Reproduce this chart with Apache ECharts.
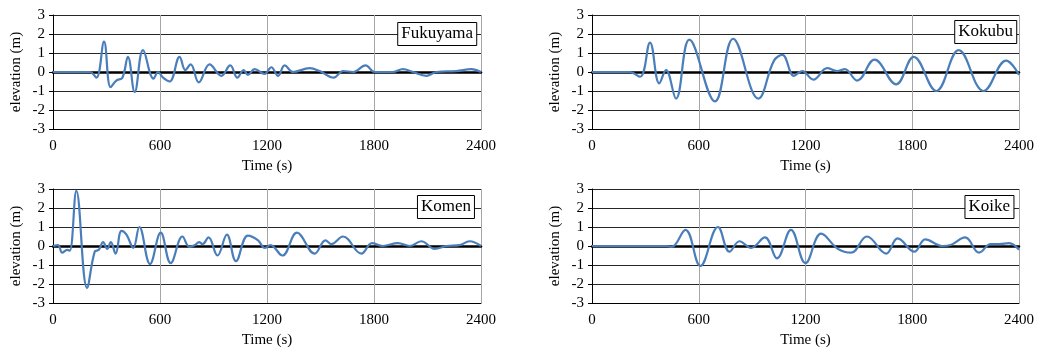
<!DOCTYPE html>
<html>
<head>
<meta charset="UTF-8">
<title>elevation</title>
<style>
  html, body { margin: 0; padding: 0; background: #fff; }
  #chart { width: 1037px; height: 351px; }
</style>
<script src="https://cdn.jsdelivr.net/npm/echarts@6/dist/echarts.min.js"></script>
</head>
<body>
<div id="chart"></div>
<script>
// time (s) / elevation (m)
var fukuyamaT = [0, 206, 243, 286, 323, 355, 389, 420, 458, 505, 564, 589, 617, 654, 710, 742, 772, 817, 878, 944, 994, 1034, 1069, 1093, 1131, 1187, 1224, 1262, 1299, 1346, 1439, 1495, 1574, 1626, 1682, 1753, 1804, 1906, 1962, 2019, 2093, 2150, 2262, 2346, 2400];
var fukuyamaV = [0, 0, -0.3, 1.6, -0.8, -0.45, -0.3, 0.8, -1.05, 1.15, -0.35, 0, -0.3, -0.5, 0.8, 0.1, 0.4, -0.55, 0.4, -0.2, 0.35, -0.3, 0.1, -0.15, 0.15, -0.1, 0.25, -0.2, 0.35, 0, 0.2, 0.05, -0.3, 0.05, 0, 0.35, 0, 0, 0.15, 0, -0.2, 0, 0.05, 0.15, 0];

var kokubuT = [0, 210, 270, 326, 378, 416, 472, 547, 691, 793, 935, 1023, 1070, 1135, 1182, 1244, 1322, 1378, 1421, 1490, 1588, 1709, 1808, 1935, 2061, 2201, 2328, 2400];
var kokubuV = [0, 0, -0.25, 1.55, -0.6, 0.1, -1.4, 1.7, -1.55, 1.75, -1.4, 0.6, 0.9, -0.2, 0.05, -0.4, 0.2, 0.05, 0.15, -0.45, 0.65, -0.65, 0.8, -1.0, 1.15, -1.0, 0.6, -0.15];

var komenT = [0, 28, 52, 80, 94, 131, 191, 234, 257, 281, 304, 324, 351, 384, 412, 450, 484, 544, 604, 660, 726, 765, 797, 819, 838, 872, 922, 975, 1026, 1093, 1150, 1187, 1219, 1286, 1368, 1467, 1528, 1560, 1626, 1729, 1789, 1850, 1934, 2000, 2065, 2140, 2206, 2280, 2336, 2400];
var komenV = [0, 0.05, -0.35, -0.2, -0.25, 2.9, -2.2, -0.3, -0.2, 0.2, -0.15, 0.2, -0.4, 0.8, 0.6, -0.1, 1.0, -0.95, 0.7, -0.9, 0.5, -0.05, 0.05, 0.2, 0.1, 0.45, -0.5, 0.6, -0.8, 0.55, 0.3, -0.1, 0.05, -0.5, 0.7, -0.4, 0.3, 0.1, 0.5, -0.4, 0.15, 0, 0.15, 0, 0.25, -0.15, 0, 0.05, 0.25, 0];

var koikeT = [0, 419, 447, 525, 609, 708, 773, 829, 894, 972, 1040, 1118, 1200, 1288, 1382, 1457, 1545, 1653, 1718, 1812, 1873, 1970, 2016, 2097, 2176, 2241, 2288, 2344, 2400];
var koikeV = [0, 0, -0.05, 0.85, -1.05, 1.0, -0.3, 0.25, -0.1, 0.45, -0.65, 0.85, -0.9, 0.65, -0.15, -0.35, 0.5, -0.4, 0.4, -0.3, 0.35, 0, 0.05, 0.45, -0.35, 0.1, 0.1, 0.15, -0.2];

var xTicks = [0, 600, 1200, 1800, 2400];
var yTicks = [-3, -2, -1, 0, 1, 2, 3];

var font = '"Liberation Serif", "DejaVu Serif", serif';

var panels = [
  { name: 'Fukuyama', t: fukuyamaT, v: fukuyamaV, left: 53, top: 15, boxRight: 560, boxTop: 22 },
  { name: 'Kokubu', t: kokubuT, v: kokubuV, left: 592, top: 15, boxRight: 20, boxTop: 20 },
  { name: 'Komen', t: komenT, v: komenV, left: 53, top: 189, boxRight: 562, boxTop: 195 },
  { name: 'Koike', t: koikeT, v: koikeV, left: 592, top: 189, boxRight: 23, boxTop: 195 }
];

var grid = [], xAxis = [], yAxis = [], series = [], title = [];

panels.forEach(function (p, i) {
  grid.push({ left: p.left, top: p.top, width: 428, height: 114 });

  // labelled axis at the bottom
  xAxis.push({
    type: 'value', gridIndex: i, min: xTicks[0], max: xTicks[xTicks.length - 1], interval: 600,
    name: 'Time (s)', nameLocation: 'middle', nameGap: 30,
    nameTextStyle: { fontFamily: font, fontSize: 15, color: '#000' },
    axisLine: { onZero: false, lineStyle: { color: '#000', width: 1 } },
    axisTick: { show: false },
    axisLabel: { fontFamily: font, fontSize: 15, color: '#000', margin: 10,
      formatter: function (v) { return String(v); } },
    splitLine: { show: true, lineStyle: { color: '#a6a6a6', width: 1 } }
  });
  // heavy zero line
  xAxis.push({
    type: 'value', gridIndex: i, min: 0, max: 2400, position: 'bottom',
    axisLine: { onZero: true, lineStyle: { color: '#000', width: 2.5 } },
    axisTick: { show: false }, axisLabel: { show: false }, splitLine: { show: false }
  });

  yAxis.push({
    type: 'value', gridIndex: i, min: yTicks[0], max: yTicks[yTicks.length - 1], interval: 1,
    name: 'elevation (m)', nameLocation: 'middle', nameGap: 29, nameRotate: 90,
    nameTextStyle: { fontFamily: font, fontSize: 15, color: '#000' },
    axisLine: { show: true, onZero: false, lineStyle: { color: '#000', width: 1 } },
    axisTick: { show: true, length: 4, lineStyle: { color: '#000' } },
    axisLabel: { fontFamily: font, fontSize: 15, color: '#000', margin: 8 },
    splitLine: { show: true, lineStyle: { color: '#262626', width: 1 } }
  });

  series.push({
    type: 'line', xAxisIndex: i * 2, yAxisIndex: i,
    data: p.t.map(function (t, k) { return [t, p.v[k]]; }),
    smooth: 0.4, showSymbol: false, symbol: 'none',
    lineStyle: { color: '#4a7ebb', width: 2.2 }, z: 3
  });

  title.push({
    text: p.name, right: p.boxRight, top: p.boxTop,
    padding: [2, 4], borderColor: '#000', borderWidth: 1, backgroundColor: '#fff',
    textStyle: { fontFamily: font, fontSize: 17, fontWeight: 'normal', color: '#000', lineHeight: 20 }
  });
});

var myChart = echarts.init(document.getElementById('chart'));
myChart.setOption({
  animation: false,
  backgroundColor: '#fff',
  title: title,
  grid: grid,
  xAxis: xAxis,
  yAxis: yAxis,
  series: series
});
</script>
</body>
</html>
